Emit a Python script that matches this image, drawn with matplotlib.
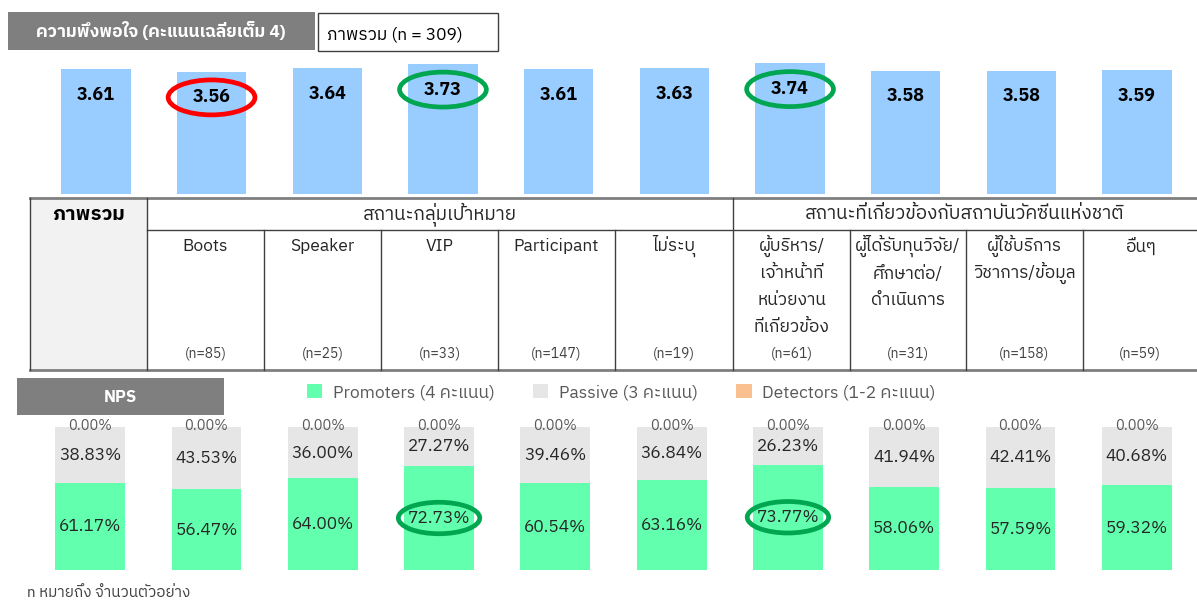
import matplotlib
matplotlib.use("Agg")
import matplotlib.pyplot as plt
from matplotlib import font_manager
from matplotlib.patches import Ellipse, Rectangle
from fontTools.ttLib import TTFont

# ---- data ----
groups = ["ภาพรวม", "Boots", "Speaker", "VIP", "Participant", "ไม่ระบุ",
          "ผู้บริหาร/\nเจ้าหน้าที่\nหน่วยงาน\nที่เกี่ยวข้อง",
          "ผู้ได้รับทุนวิจัย/\nศึกษาต่อ/\nดำเนินการ",
          "ผู้ใช้บริการ\nวิชาการ/ข้อมูล", "อื่นๆ"]
n_sizes = [309, 85, 25, 33, 147, 19, 61, 31, 158, 59]
satisfaction = [3.61, 3.56, 3.64, 3.73, 3.61, 3.63, 3.74, 3.58, 3.58, 3.59]
promoters = [61.17, 56.47, 64.00, 72.73, 60.54, 63.16, 73.77, 58.06, 57.59, 59.32]
passive = [38.83, 43.53, 36.00, 27.27, 39.46, 36.84, 26.23, 41.94, 42.41, 40.68]
detractors = [0.00, 0.00, 0.00, 0.00, 0.00, 0.00, 0.00, 0.00, 0.00, 0.00]
sections = ["สถานะกลุ่มเป้าหมาย", "สถานะที่เกี่ยวข้องกับสถาบันวัคซีนแห่งชาติ"]
legend_labels = ["Promoters (4 คะแนน)", "Passive (3 คะแนน)", "Detectors (1-2 คะแนน)"]
low_idx = [1]        # circled red
high_idx = [3, 6]    # circled green


def find_thai_font():
    # look for any installed font that has Thai glyphs
    found = []
    for fe in font_manager.fontManager.ttflist:
        try:
            f = TTFont(fe.fname, fontNumber=0, lazy=True)
            cmap = f.getBestCmap()
            if cmap and 0x0E01 in cmap and 0x0E48 in cmap:
                found.append(fe.name)
        except Exception:
            continue
    for name in found:
        if "Sans" in name:
            return name
    return found[0] if found else None


thai = find_thai_font()
fams = [thai, "DejaVu Sans"] if thai else ["DejaVu Sans"]
plt.rcParams['font.family'] = fams

W, H = 1197, 601
fig = plt.figure(figsize=(W / 100, H / 100), dpi=100)


def rect(x0, y0, x1, y1):
    return [x0 / W, 1 - y1 / H, (x1 - x0) / W, (y1 - y0) / H]


# overlay in pixel coords for boxes and the table
ov = fig.add_axes([0, 0, 1, 1])
ov.set_xlim(0, W)
ov.set_ylim(H, 0)
ov.axis("off")

# title boxes
ov.add_patch(Rectangle((8, 12), 307, 38, facecolor="#7f7f7f", edgecolor="none"))
ov.text(161, 31, "ความพึงพอใจ (คะแนนเฉลี่ยเต็ม 4)", color="white", fontsize=12.5,
        fontweight="bold", ha="center", va="center")
ov.add_patch(Rectangle((318, 13), 180, 38, facecolor="white", edgecolor="#404040", lw=1))
ov.text(327, 34, "ภาพรวม (n = %d)" % n_sizes[0], fontsize=12.5, ha="left", va="center")

# table
cols = [30, 147, 264, 381, 498, 615, 733, 850, 966, 1083, 1197]
top, mid, bot = 198, 230, 370
ov.add_patch(Rectangle((cols[0], top), cols[1] - cols[0], bot - top,
                       facecolor="#f2f2f2", edgecolor="none"))
ov.plot([cols[0], cols[-1]], [top, top], color="#7f7f7f", lw=2)
ov.plot([cols[0], cols[-1]], [bot, bot], color="#7f7f7f", lw=2)
ov.plot([cols[1], cols[-1]], [mid, mid], color="#404040", lw=1)
for x in [cols[0], cols[1], cols[6]]:
    ov.plot([x, x], [top, bot], color="#404040", lw=1)
for x in cols[2:6] + cols[7:10]:
    ov.plot([x, x], [mid, bot], color="#404040", lw=1)
ov.text((cols[0] + cols[1]) / 2, 214, groups[0], fontsize=14.5, fontweight="bold",
        ha="center", va="center")
ov.text((cols[1] + cols[6]) / 2, 214, sections[0], fontsize=13.5, color="#262626",
        ha="center", va="center")
ov.text((cols[6] + cols[10]) / 2, 214, sections[1], fontsize=13.5, color="#262626",
        ha="center", va="center")
for i in range(1, 10):
    cx = (cols[i] + cols[i + 1]) / 2
    for j, line in enumerate(groups[i].split("\n")):
        ov.text(cx, 246 + 27 * j, line, fontsize=12.5, color="#262626",
                ha="center", va="center")
    ov.text(cx, 354, "(n=%d)" % n_sizes[i], fontsize=10, color="#404040",
            ha="center", va="center")

# NPS box + footnote
ov.add_patch(Rectangle((17, 378), 207, 37, facecolor="#7f7f7f", edgecolor="none"))
ov.text(120, 397, "NPS", color="white", fontsize=12, fontweight="bold",
        ha="center", va="center")
ov.text(27, 593, "n หมายถึง จำนวนตัวอย่าง", fontsize=11, color="#404040",
        ha="left", va="center")

# ---- satisfaction bars ----
x = list(range(len(satisfaction)))
ax1 = fig.add_axes(rect(38, 50, 1195, 194))
ax1.patch.set_alpha(0)
ax1.bar(x, satisfaction, width=0.6, color="#99ccff")
ax1.set_xlim(-0.5, 9.5)
ax1.set_ylim(0.9, 0.9 + 144 / 46)
ax1.axis("off")
for i, v in enumerate(satisfaction):
    ax1.text(i, v - 0.56, "%.2f" % v, fontsize=13, fontweight="bold",
             ha="center", va="center")
for i in low_idx:
    ax1.add_patch(Ellipse((i, satisfaction[i] - 0.56), 0.75, 0.76, fill=False,
                          edgecolor="#ff0000", lw=3.4, clip_on=False))
for i in high_idx:
    ax1.add_patch(Ellipse((i, satisfaction[i] - 0.56), 0.75, 0.76, fill=False,
                          edgecolor="#00a650", lw=3.4, clip_on=False))

# ---- NPS stacked bars ----
ax2 = fig.add_axes(rect(32, 427, 1195, 570))
ax2.patch.set_alpha(0)
b1 = ax2.bar(x, promoters, width=0.6, color="#61ffae", label=legend_labels[0])
b2 = ax2.bar(x, passive, width=0.6, bottom=promoters, color="#e6e6e6", label=legend_labels[1])
tops = [p + s for p, s in zip(promoters, passive)]
b3 = ax2.bar(x, detractors, width=0.6, bottom=tops, color="#fac090", label=legend_labels[2])
ax2.set_xlim(-0.5, 9.5)
ax2.set_ylim(0, 100)
ax2.axis("off")
for i in x:
    ax2.text(i, promoters[i] / 2, "%.2f%%" % promoters[i], fontsize=12.5,
             color="#262626", ha="center", va="center")
    ax2.text(i, promoters[i] + passive[i] / 2, "%.2f%%" % passive[i], fontsize=12.5,
             color="#262626", ha="center", va="center")
    ax2.text(i, tops[i] + detractors[i] + 0.5, "%.2f%%" % detractors[i], fontsize=10.5,
             color="#595959", ha="center", va="center", clip_on=False)
for i in high_idx:
    ax2.add_patch(Ellipse((i, promoters[i] / 2), 0.7, 22, fill=False,
                          edgecolor="#00a650", lw=3.4, clip_on=False))

fig.legend(handles=[b1, b2, b3], loc="center", bbox_to_anchor=(621 / W, 1 - 392 / H),
           ncol=3, frameon=False, fontsize=12.5, labelcolor="#595959",
           handlelength=0.9, handleheight=0.9, handletextpad=0.6, columnspacing=2.2)

fig.savefig("out.png", dpi=100)
